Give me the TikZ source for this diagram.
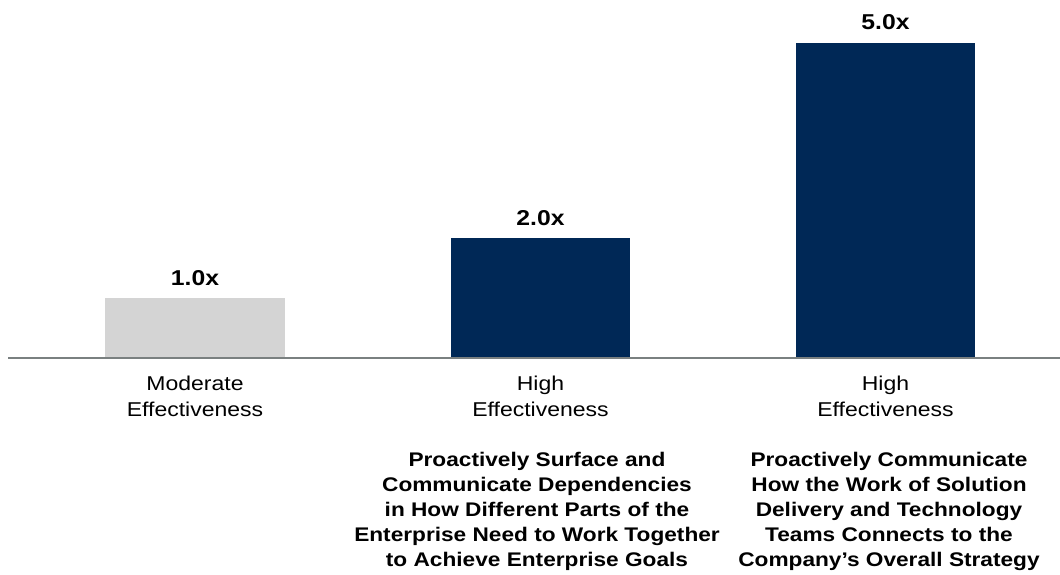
\documentclass[tikz,border=0pt]{standalone}
\usepackage{fontspec}
\setmainfont[FakeStretch=1.15]{Liberation Sans}
\definecolor{navy}{HTML}{002856}
\definecolor{lightgray}{HTML}{D4D4D4}
\definecolor{axisgray}{HTML}{7A8080}
\begin{document}
\begin{tikzpicture}[x=1pt,y=1pt,
  val/.style={font=\fontsize{21.5}{24}\selectfont\bfseries,anchor=base},
  cat/.style={font=\fontsize{20}{26}\selectfont,align=center,anchor=north},
  desc/.style={font=\fontsize{19.7}{24.8}\selectfont\bfseries,align=center,anchor=north}]
\useasboundingbox (0,0) rectangle (1060,-574);
\fill[lightgray] (105,-358) rectangle (285,-298);
\fill[navy] (451,-358) rectangle (630,-238);
\fill[navy] (796,-358) rectangle (975,-43);
\draw[axisgray,line width=2pt] (8,-358) -- (1060,-358);
\node[val] (v1) at (195,-285) {1.0x};
\node[val] (v2) at (540.5,-225) {2.0x};
\node[val] (v3) at (885.5,-29) {5.0x};
\node[cat] (c1) at (195,-372) {Moderate\\Effectiveness};
\node[cat] (c2) at (540.5,-372) {High\\Effectiveness};
\node[cat] (c3) at (885.5,-372) {High\\Effectiveness};
\node[desc] (d2) at (537,-449) {Proactively Surface and\\Communicate Dependencies\\in How Different Parts of the\\Enterprise Need to Work Together\\to Achieve Enterprise Goals};
\node[desc] (d3) at (889,-449) {Proactively Communicate\\How the Work of Solution\\Delivery and Technology\\Teams Connects to the\\Company’s Overall Strategy};
\end{tikzpicture}
\end{document}
